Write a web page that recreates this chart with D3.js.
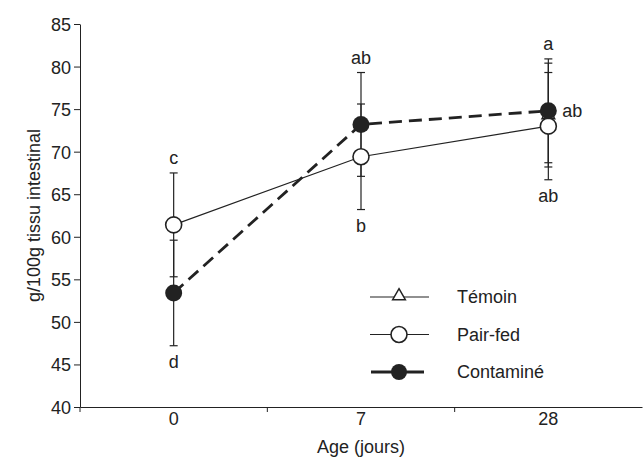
<!DOCTYPE html>
<html>
<head>
<meta charset="utf-8">
<script src="https://cdn.jsdelivr.net/npm/d3@7"></script>
<style>
  body { margin: 0; background: #fff; }
  text { font-family: "Liberation Sans", Arial, sans-serif; fill: #222; }
</style>
</head>
<body>
<div class="board"></div>
<script>
// data
var ages = ['0', '7', '28'];
var yTicks = [40, 45, 50, 55, 60, 65, 70, 75, 80, 85];

var temoin = [null, null, 74.3];
var temoinErr = [null, null, 6.1];
var pairFed = [61.4, 69.4, 73.0];
var pairFedErr = [6.1, 6.2, 6.3];
var contamine = [53.4, 73.2, 74.8];
var contamineErr = [6.2, 6.1, 6.1];

// letters: [age index, value, label, position]
var letters = [
  [0, 67.5, 'c', 'above'],
  [0, 47.2, 'd', 'below'],
  [1, 79.3, 'ab', 'above'],
  [1, 63.2, 'b', 'below'],
  [2, 80.9, 'a', 'above'],
  [2, 74.8, 'ab', 'right'],
  [2, 66.7, 'ab', 'below']
];

var width = 643;
var height = 464;
var fs = '18px';

var svg = d3.select('.board').append('svg')
  .attr('width', width)
  .attr('height', height);

var x = d3.scaleBand().domain(ages).range([80, 642]).padding(0);
var y = d3.scaleLinear().domain([40, 85]).range([407, 24]);
var cx = function(i) { return x(ages[i]) + x.bandwidth() / 2; };

// axes
var yAxis = svg.append('g').attr('transform', 'translate(80,0)')
  .call(d3.axisLeft(y).tickValues(yTicks).tickSize(6).tickSizeOuter(0));
var xAxis = svg.append('g').attr('transform', 'translate(0,407)')
  .call(d3.axisBottom(x).tickSize(0).tickSizeOuter(0));

[yAxis, xAxis].forEach(function(a) {
  a.select('.domain').attr('stroke', '#222');
  a.selectAll('line').attr('stroke', '#222');
  a.selectAll('text').style('font-size', fs).attr('fill', '#222');
});
yAxis.selectAll('text').attr('x', -9).attr('dy', '0.36em');
xAxis.selectAll('text').attr('y', 5);

// x boundary ticks
xAxis.selectAll('.bound').data(ages).enter().append('line')
  .attr('class', 'bound')
  .attr('x1', function(d) { return x(d); })
  .attr('x2', function(d) { return x(d); })
  .attr('y1', 0).attr('y2', 5)
  .attr('stroke', '#222');

svg.append('text')
  .attr('x', cx(1)).attr('y', 453)
  .attr('text-anchor', 'middle')
  .style('font-size', fs)
  .text('Age (jours)');

svg.append('text')
  .attr('transform', 'translate(40,' + y(62.5) + ') rotate(-90)')
  .attr('text-anchor', 'middle')
  .style('font-size', fs)
  .text('g/100g tissu intestinal');

// error bars
var drawErr = function(vals, errs) {
  vals.forEach(function(v, i) {
    if (v === null) return;
    var e = errs[i];
    var g = svg.append('g').attr('stroke', '#222').attr('stroke-width', 1.2);
    g.append('line').attr('x1', cx(i)).attr('x2', cx(i))
      .attr('y1', y(v + e)).attr('y2', y(v - e));
    [v + e, v - e].forEach(function(t) {
      g.append('line').attr('x1', cx(i) - 4).attr('x2', cx(i) + 4)
        .attr('y1', y(t)).attr('y2', y(t));
    });
  });
};
drawErr(temoin, temoinErr);
drawErr(pairFed, pairFedErr);
drawErr(contamine, contamineErr);

var line = d3.line()
  .defined(function(d) { return d !== null; })
  .x(function(d, i) { return cx(i); })
  .y(function(d) { return y(d); });

svg.append('path').datum(pairFed)
  .attr('d', line).attr('fill', 'none')
  .attr('stroke', '#222').attr('stroke-width', 1.2);

svg.append('path').datum(contamine)
  .attr('d', line).attr('fill', 'none')
  .attr('stroke', '#222').attr('stroke-width', 2.8)
  .attr('stroke-dasharray', '13,7');

// markers
var tri = d3.symbol().type(d3.symbolTriangle).size(70);
temoin.forEach(function(v, i) {
  if (v === null) return;
  svg.append('path').attr('d', tri())
    .attr('transform', 'translate(' + cx(i) + ',' + y(v) + ')')
    .attr('fill', '#fff').attr('stroke', '#222').attr('stroke-width', 1.5);
});
svg.selectAll('.pf').data(pairFed).enter().append('circle')
  .attr('cx', function(d, i) { return cx(i); })
  .attr('cy', function(d) { return y(d); })
  .attr('r', 8)
  .attr('fill', '#fff').attr('stroke', '#222').attr('stroke-width', 1.6);
svg.selectAll('.ct').data(contamine).enter().append('circle')
  .attr('cx', function(d, i) { return cx(i); })
  .attr('cy', function(d) { return y(d); })
  .attr('r', 8.5)
  .attr('fill', '#222');

// significance letters
letters.forEach(function(l) {
  var t = svg.append('text').style('font-size', fs).text(l[2]);
  if (l[3] === 'above') {
    t.attr('x', cx(l[0])).attr('y', y(l[1]) - 9).attr('text-anchor', 'middle');
  } else if (l[3] === 'below') {
    t.attr('x', cx(l[0])).attr('y', y(l[1]) + 22).attr('text-anchor', 'middle');
  } else {
    t.attr('x', cx(l[0]) + 14).attr('y', y(l[1]) + 6).attr('text-anchor', 'start');
  }
});

// legend
var legend = [
  { name: 'Témoin', kind: 'tri' },
  { name: 'Pair-fed', kind: 'open' },
  { name: 'Contaminé', kind: 'filled' }
];
legend.forEach(function(d, i) {
  var ly = 297 + i * 37.5;
  var g = svg.append('g');
  if (d.kind === 'filled') {
    g.append('line').attr('x1', 371).attr('x2', 424).attr('y1', ly).attr('y2', ly)
      .attr('stroke', '#222').attr('stroke-width', 2.8);
    g.append('circle').attr('cx', 399).attr('cy', ly).attr('r', 8).attr('fill', '#222');
  } else {
    g.append('line').attr('x1', 370).attr('x2', 429).attr('y1', ly).attr('y2', ly)
      .attr('stroke', '#222').attr('stroke-width', 1.2);
    if (d.kind === 'tri') {
      g.append('path').attr('d', tri())
        .attr('transform', 'translate(399,' + (ly - 1) + ')')
        .attr('fill', '#fff').attr('stroke', '#222').attr('stroke-width', 1.5);
    } else {
      g.append('circle').attr('cx', 399).attr('cy', ly).attr('r', 8)
        .attr('fill', '#fff').attr('stroke', '#222').attr('stroke-width', 1.6);
    }
  }
  g.append('text').attr('x', 457).attr('y', ly + 6)
    .style('font-size', fs).text(d.name);
});
</script>
</body>
</html>
